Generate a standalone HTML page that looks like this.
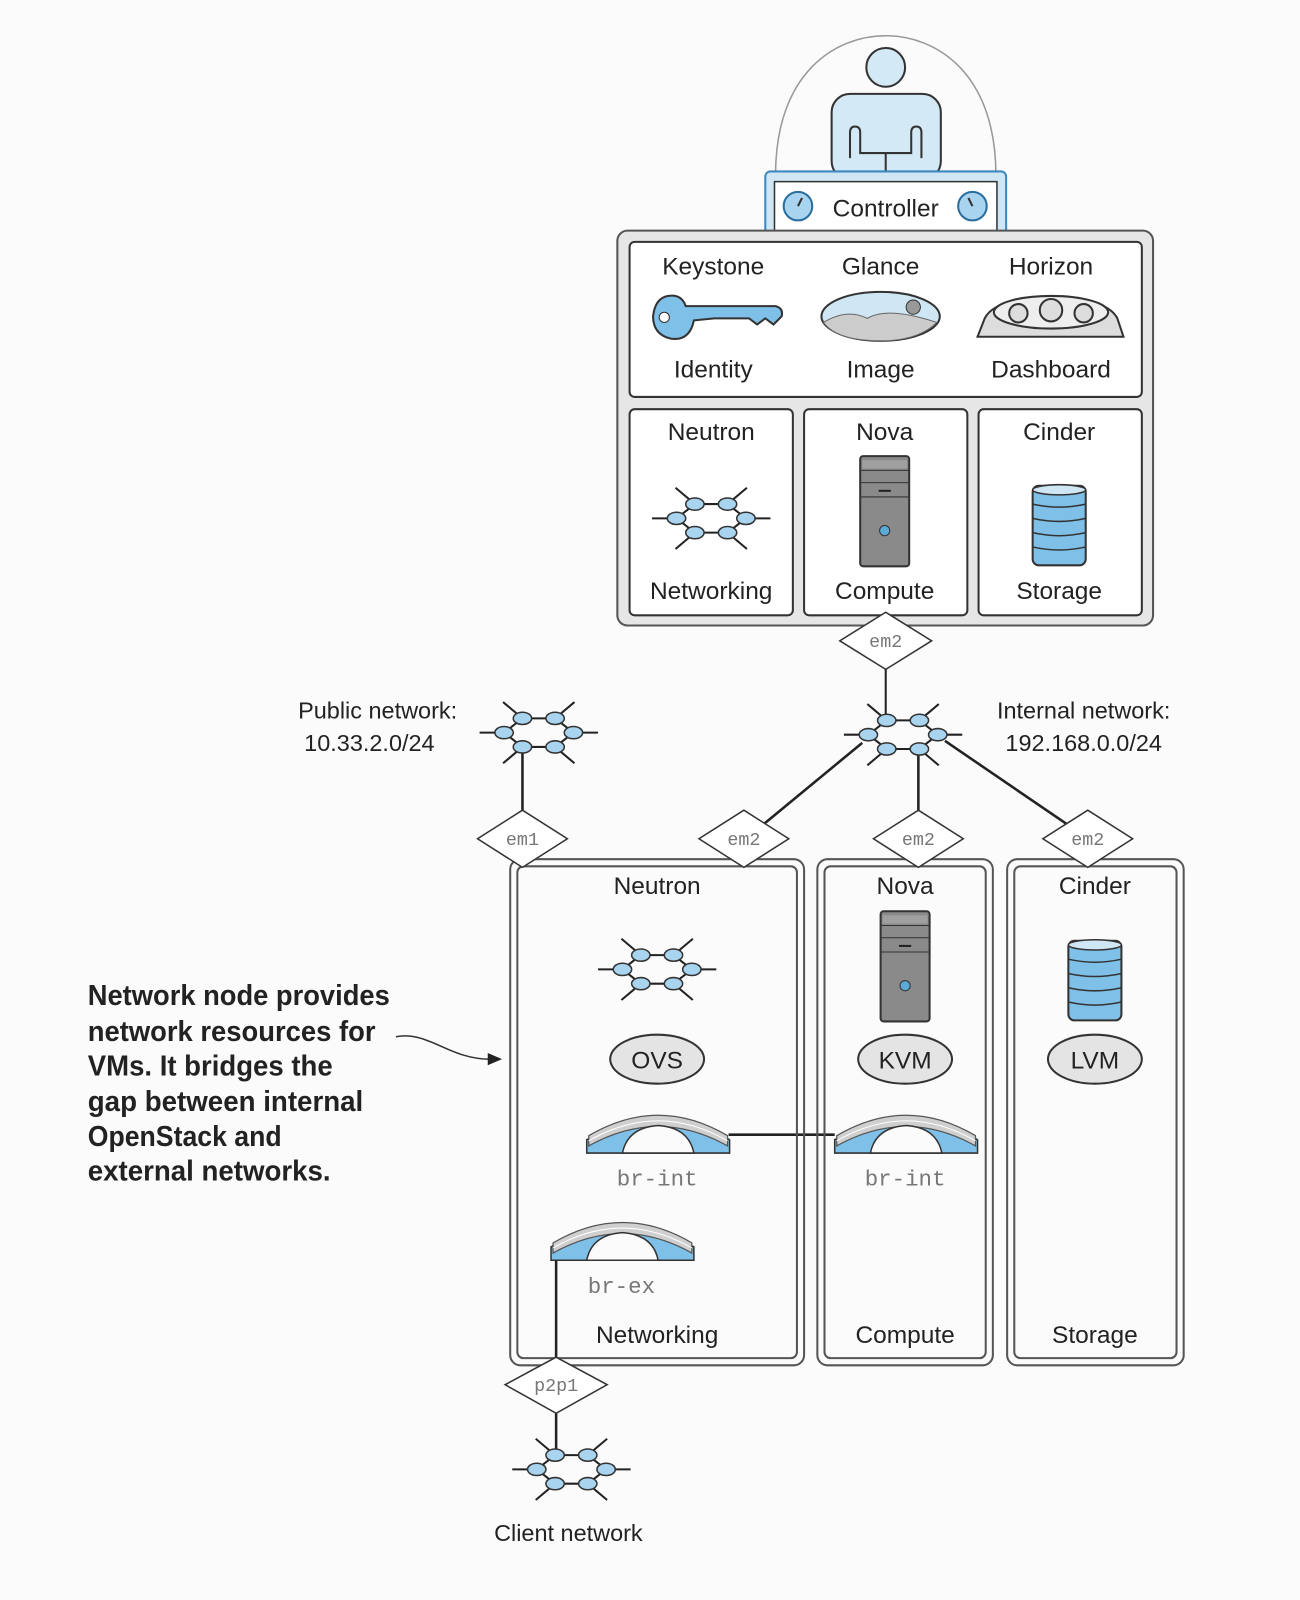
<!DOCTYPE html>
<html><head><meta charset="utf-8"><style>
html,body{margin:0;padding:0;background:#fbfbfb;}
svg{display:block;}
text{font-family:"Liberation Sans",sans-serif;fill:#222;}
.m{font-family:"Liberation Mono",monospace;fill:#777;}
.b{font-family:"Liberation Sans Narrow","Liberation Sans",sans-serif;font-weight:bold;fill:#222;}
</style></head><body>
<svg width="1300" height="1600" viewBox="0 0 1274 1568" xmlns="http://www.w3.org/2000/svg">
<defs>
<g id="net">
 <line x1="-58" y1="0" x2="-36" y2="0" stroke="#222" stroke-width="2"/>
 <line x1="36" y1="0" x2="58" y2="0" stroke="#222" stroke-width="2"/>
 <line x1="-16" y1="-14" x2="-35" y2="-30" stroke="#222" stroke-width="2"/>
 <line x1="16" y1="-14" x2="35" y2="-30" stroke="#222" stroke-width="2"/>
 <line x1="-16" y1="14" x2="-35" y2="30" stroke="#222" stroke-width="2"/>
 <line x1="16" y1="14" x2="35" y2="30" stroke="#222" stroke-width="2"/>
 <polygon points="-16,-14 16,-14 34,0 16,14 -16,14 -34,0" fill="none" stroke="#222" stroke-width="2"/>
 <g fill="#a9d4ef" stroke="#333" stroke-width="1.5">
  <ellipse cx="-16" cy="-14" rx="9" ry="6"/><ellipse cx="16" cy="-14" rx="9" ry="6"/>
  <ellipse cx="34" cy="0" rx="9" ry="6"/><ellipse cx="16" cy="14" rx="9" ry="6"/>
  <ellipse cx="-16" cy="14" rx="9" ry="6"/><ellipse cx="-34" cy="0" rx="9" ry="6"/>
 </g>
</g>
<g id="server">
 <rect x="-24" y="0" width="48" height="108" rx="3" fill="#8a8a8a" stroke="#333" stroke-width="2"/>
 <rect x="-22" y="4" width="44" height="8" fill="#a0a0a0"/>
 <line x1="-24" y1="14" x2="24" y2="14" stroke="#333"/>
 <line x1="-24" y1="26" x2="24" y2="26" stroke="#333"/>
 <line x1="-24" y1="40" x2="24" y2="40" stroke="#333"/>
 <line x1="-6" y1="34" x2="6" y2="34" stroke="#222" stroke-width="2"/>
 <circle cx="0" cy="73" r="5" fill="#5aa9d6" stroke="#333"/>
</g>
<g id="db">
 <rect x="-26" y="0" width="52" height="78" rx="6" fill="#7fc0e8" stroke="#333" stroke-width="2"/>
 <ellipse cx="0" cy="4" rx="26" ry="5" fill="#cfe6f4" stroke="#333" stroke-width="1.5"/>
 <g stroke="#333" fill="none" stroke-width="1.5">
 <path d="M-26 18 Q0 24 26 18"/><path d="M-26 32 Q0 38 26 32"/><path d="M-26 46 Q0 52 26 46"/><path d="M-26 60 Q0 66 26 60"/>
 </g>
</g>
<g id="bridge">
 <path d="M0 45 L0 32 Q70 -12 140 32 L140 45 Z" fill="#7fc0e8" stroke="#333" stroke-width="1.5"/>
 <path d="M2 28 Q70 -12 138 28 L138 38 Q70 0 2 38 Z" fill="#cfcfcf" stroke="#555" stroke-width="1.2"/>
 <path d="M2 33 Q70 -6 138 33" fill="none" stroke="#fff" stroke-width="1"/>
 <path d="M35 45 Q40 20 70 18 Q100 20 105 45 Z" fill="#fbfbfb" stroke="#333" stroke-width="1.5"/>
</g>
</defs>

<path d="M760 172 C760 70 820 35 868 35 C916 35 976 70 976 172" fill="none" stroke="#999" stroke-width="1.5"/>
<circle cx="868" cy="66" r="19" fill="#d3e9f5" stroke="#333" stroke-width="2"/>
<rect x="815" y="92" width="107" height="84" rx="18" fill="#d3e9f5" stroke="#333" stroke-width="2"/>
<path d="M833 155 V130 Q833 124 838 124 Q843 124 843 130 V150 H893 V130 Q893 124 898 124 Q903 124 903 130 V155 M868 150 V172" fill="none" stroke="#333" stroke-width="2"/>
<rect x="750" y="168" width="236" height="62" rx="5" fill="#cfe6f4" stroke="#3c88bf" stroke-width="2"/>
<rect x="759" y="178" width="218" height="52" fill="#fff" stroke="#333" stroke-width="1.5"/>
<circle cx="782" cy="202" r="14" fill="#a9d4ef" stroke="#2a6e9e" stroke-width="2"/>
<line x1="782" y1="202" x2="786" y2="194" stroke="#333" stroke-width="2"/>
<circle cx="953" cy="202" r="14" fill="#a9d4ef" stroke="#2a6e9e" stroke-width="2"/>
<line x1="953" y1="202" x2="949" y2="194" stroke="#333" stroke-width="2"/>
<text x="868" y="212" font-size="24" text-anchor="middle">Controller</text>

<rect x="605" y="226" width="525" height="387" rx="10" fill="#e6e6e6" stroke="#555" stroke-width="2"/>
<rect x="617" y="237" width="502" height="152" rx="5" fill="#fff" stroke="#333" stroke-width="2"/>
<rect x="617" y="401" width="160" height="202" rx="5" fill="#fff" stroke="#333" stroke-width="2"/>
<rect x="788" y="401" width="160" height="202" rx="5" fill="#fff" stroke="#333" stroke-width="2"/>
<rect x="959" y="401" width="160" height="202" rx="5" fill="#fff" stroke="#333" stroke-width="2"/>
<g font-size="24" text-anchor="middle">
<text x="699" y="269">Keystone</text><text x="863" y="269">Glance</text><text x="1030" y="269">Horizon</text>
<text x="699" y="370">Identity</text><text x="863" y="370">Image</text><text x="1030" y="370">Dashboard</text>
<text x="697" y="431">Neutron</text><text x="867" y="431">Nova</text><text x="1038" y="431">Cinder</text>
<text x="697" y="587">Networking</text><text x="867" y="587">Compute</text><text x="1038" y="587">Storage</text>
</g>
<path d="M655 290 Q668 288 672 300 L760 300 Q768 302 766 310 L758 318 L750 312 L742 318 L734 312 L700 312 L680 314 Q676 334 658 332 Q640 328 640 310 Q642 292 655 290 Z" fill="#7fc0e8" stroke="#333" stroke-width="2"/>
<circle cx="651" cy="311" r="5" fill="#fff" stroke="#333"/>
<ellipse cx="863" cy="310" rx="58" ry="24" fill="#cfe6f4" stroke="#333" stroke-width="2"/>
<path d="M807 316 Q830 302 850 312 Q870 300 918 316 Q900 334 863 334 Q820 334 807 316 Z" fill="#ccc" stroke="#666"/>
<circle cx="895" cy="301" r="7" fill="#999" stroke="#333"/>
<path d="M958 330 L965 312 Q975 292 1030 292 Q1085 292 1095 312 L1101 330 Z" fill="#ddd" stroke="#333" stroke-width="2"/>
<ellipse cx="1030" cy="306" rx="56" ry="16" fill="#eee" stroke="#333" stroke-width="2"/>
<g fill="#ddd" stroke="#333" stroke-width="2"><circle cx="998" cy="307" r="9"/><circle cx="1030" cy="304" r="11"/><circle cx="1062" cy="307" r="9"/></g>
<use href="#net" x="697" y="508"/>
<use href="#server" x="867" y="447"/>
<use href="#db" x="1038" y="476"/>

<polygon points="868,600 913,628 868,656 823,628" fill="#fff" stroke="#333" stroke-width="1.5"/>
<text x="868" y="634" font-size="18" text-anchor="middle" class="m">em2</text>
<line x1="868" y1="656" x2="868" y2="706" stroke="#222" stroke-width="2"/>

<g stroke="#222" stroke-width="2.5">
<line x1="845" y1="728" x2="748" y2="808"/>
<line x1="900" y1="733" x2="900" y2="796"/>
<line x1="926" y1="726" x2="1046" y2="808"/>
<line x1="512" y1="735" x2="512" y2="796"/>
<line x1="714" y1="1112" x2="818" y2="1112"/>
<line x1="545" y1="1385" x2="545" y2="1422"/>
</g>
<use href="#net" x="885" y="720"/>
<use href="#net" x="528" y="718"/>
<text x="448" y="704" font-size="23" text-anchor="end">Public network:</text>
<text x="362" y="736" font-size="23" text-anchor="middle">10.33.2.0/24</text>
<text x="1062" y="704" font-size="23" text-anchor="middle">Internal network:</text>
<text x="1062" y="736" font-size="23" text-anchor="middle">192.168.0.0/24</text>

<g fill="none" stroke="#555" stroke-width="2">
<rect x="500" y="842" width="288" height="496" rx="10"/><rect x="507" y="849" width="274" height="482" rx="6"/>
<rect x="801" y="842" width="172" height="496" rx="10"/><rect x="808" y="849" width="158" height="482" rx="6"/>
<rect x="987" y="842" width="173" height="496" rx="10"/><rect x="994" y="849" width="159" height="482" rx="6"/>
</g>
<g fill="#fff" stroke="#333" stroke-width="1.5">
<polygon points="512,794 556,822 512,850 468,822"/>
<polygon points="729,794 773,822 729,850 685,822"/>
<polygon points="900,794 944,822 900,850 856,822"/>
<polygon points="1066,794 1110,822 1066,850 1022,822"/>
<polygon points="545,1330 595,1357 545,1385 495,1357"/>
</g>
<g font-size="18" text-anchor="middle">
<text x="512" y="828" class="m">em1</text><text x="729" y="828" class="m">em2</text>
<text x="900" y="828" class="m">em2</text><text x="1066" y="828" class="m">em2</text>
<text x="545" y="1363" class="m">p2p1</text>
</g>
<g font-size="24" text-anchor="middle">
<text x="644" y="876">Neutron</text><text x="887" y="876">Nova</text><text x="1073" y="876">Cinder</text>
<text x="644" y="1316">Networking</text><text x="887" y="1316">Compute</text><text x="1073" y="1316">Storage</text>
</g>
<use href="#net" x="644" y="950"/>
<use href="#server" x="887" y="893"/>
<use href="#db" x="1073" y="922"/>
<g fill="#e4e4e4" stroke="#333" stroke-width="2">
<ellipse cx="644" cy="1038" rx="46" ry="24"/><ellipse cx="887" cy="1038" rx="46" ry="24"/><ellipse cx="1073" cy="1038" rx="46" ry="24"/>
</g>
<g font-size="24" text-anchor="middle">
<text x="644" y="1047">OVS</text><text x="887" y="1047">KVM</text><text x="1073" y="1047">LVM</text>
</g>
<use href="#bridge" x="575" y="1085"/>
<use href="#bridge" x="818" y="1085"/>
<use href="#bridge" x="540" y="1190"/>
<line x1="545" y1="1235" x2="545" y2="1330" stroke="#222" stroke-width="2.5"/>
<g font-size="22" text-anchor="middle">
<text x="644" y="1162" class="m">br-int</text><text x="887" y="1162" class="m">br-int</text><text x="609" y="1267" class="m">br-ex</text>
</g>
<use href="#net" x="560" y="1440"/>
<text x="557" y="1510" font-size="23" text-anchor="middle">Client network</text>

<g font-size="28" class="b">
<text x="86" y="985" textLength="296" lengthAdjust="spacingAndGlyphs">Network node provides</text>
<text x="86" y="1020" textLength="282" lengthAdjust="spacingAndGlyphs">network resources for</text>
<text x="86" y="1054" textLength="240" lengthAdjust="spacingAndGlyphs">VMs. It bridges the</text>
<text x="86" y="1089" textLength="270" lengthAdjust="spacingAndGlyphs">gap between internal</text>
<text x="86" y="1123" textLength="190" lengthAdjust="spacingAndGlyphs">OpenStack and</text>
<text x="86" y="1157" textLength="238" lengthAdjust="spacingAndGlyphs">external networks.</text>
</g>
<path d="M388 1016 C420 1010 440 1038 480 1038" fill="none" stroke="#333" stroke-width="1.5"/>
<polygon points="492,1038 478,1032 478,1044" fill="#222"/>
</svg>
</body></html>
